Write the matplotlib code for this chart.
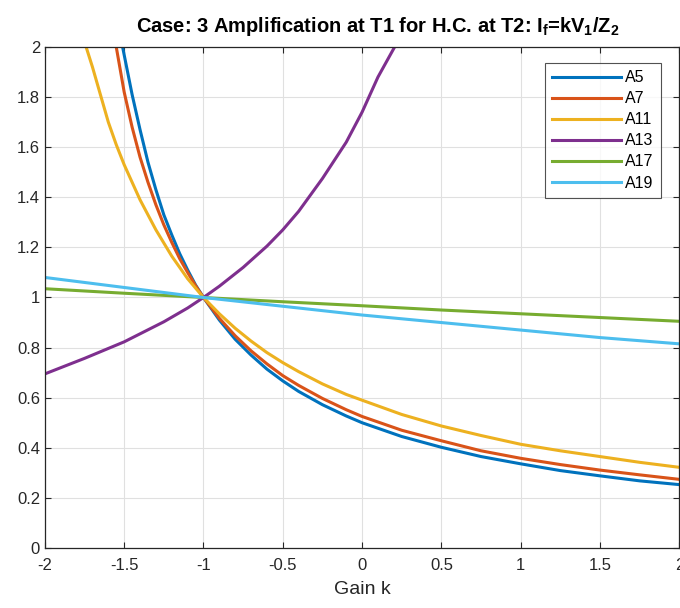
import matplotlib
matplotlib.use('Agg')
import matplotlib.pyplot as plt

plt.rcParams['font.family'] = ['Liberation Sans', 'DejaVu Sans']
plt.rcParams['axes.unicode_minus'] = False
plt.rcParams['mathtext.fontset'] = 'custom'
plt.rcParams['mathtext.rm'] = 'Liberation Sans'
plt.rcParams['mathtext.bf'] = 'Liberation Sans:bold'

# 그림에서 읽은 값 (Gain k, 증폭률)
k_a5 = [-1.51, -1.45, -1.4, -1.35, -1.3, -1.25, -1.2, -1.15, -1.1, -1.05, -1.0,
        -0.9, -0.8, -0.7, -0.6, -0.5, -0.4, -0.25, -0.1, 0.0,
        0.25, 0.5, 0.75, 1.0, 1.25, 1.5, 1.75, 2.0]
a5 = [2.0, 1.81, 1.67, 1.54, 1.43, 1.33, 1.25, 1.175, 1.11, 1.05, 1.0,
      0.91, 0.833, 0.77, 0.714, 0.667, 0.625, 0.572, 0.527, 0.50,
      0.445, 0.402, 0.365, 0.336, 0.309, 0.288, 0.268, 0.253]

k_a7 = [-1.55, -1.5, -1.45, -1.4, -1.35, -1.3, -1.25, -1.2, -1.15, -1.1, -1.05, -1.0,
        -0.9, -0.8, -0.7, -0.6, -0.5, -0.4, -0.25, -0.1, 0.0,
        0.25, 0.5, 0.75, 1.0, 1.25, 1.5, 1.75, 2.0]
a7 = [2.0, 1.82, 1.68, 1.56, 1.46, 1.37, 1.29, 1.22, 1.155, 1.10, 1.047, 1.0,
      0.917, 0.847, 0.787, 0.735, 0.688, 0.649, 0.597, 0.552, 0.525,
      0.47, 0.428, 0.388, 0.358, 0.333, 0.311, 0.292, 0.274]

k_a11 = [-1.74, -1.7, -1.65, -1.6, -1.55, -1.5, -1.45, -1.4, -1.3, -1.2, -1.1, -1.0,
         -0.9, -0.8, -0.7, -0.6, -0.5, -0.4, -0.25, -0.1, 0.0,
         0.25, 0.5, 0.75, 1.0, 1.25, 1.5, 1.75, 2.0]
a11 = [2.0, 1.92, 1.81, 1.70, 1.61, 1.53, 1.46, 1.39, 1.27, 1.165, 1.075, 1.0,
       0.935, 0.877, 0.826, 0.78, 0.74, 0.704, 0.655, 0.613, 0.59,
       0.533, 0.487, 0.449, 0.414, 0.388, 0.365, 0.342, 0.322]

k_a13 = [-2.0, -1.75, -1.5, -1.25, -1.1, -1.0, -0.9, -0.75, -0.6, -0.5,
         -0.4, -0.25, -0.1, 0.0, 0.1, 0.205]
a13 = [0.695, 0.757, 0.823, 0.903, 0.958, 1.0, 1.045, 1.12, 1.205, 1.27,
       1.344, 1.475, 1.62, 1.74, 1.88, 2.0]

k_lin = [-2.0, -1.5, -1.0, -0.5, 0.0, 0.5, 1.0, 1.5, 2.0]
a17 = [1.035, 1.017, 1.0, 0.983, 0.967, 0.95, 0.935, 0.92, 0.905]
a19 = [1.08, 1.04, 1.0, 0.965, 0.93, 0.90, 0.87, 0.84, 0.815]

xticks = [-2, -1.5, -1, -0.5, 0, 0.5, 1, 1.5, 2]
xlabels = ['-2', '-1.5', '-1', '-0.5', '0', '0.5', '1', '1.5', '2']
yticks = [0, 0.2, 0.4, 0.6, 0.8, 1.0, 1.2, 1.4, 1.6, 1.8, 2.0]
ylabels = ['0', '0.2', '0.4', '0.6', '0.8', '1', '1.2', '1.4', '1.6', '1.8', '2']

fig = plt.figure(figsize=(6.8, 6.08), dpi=100)
ax = fig.add_axes([0.066, 0.0987, 0.933, 0.824])

lw = 2.2
ax.plot(k_a5, a5, color='#0072BD', lw=lw, label='A5')
ax.plot(k_a7, a7, color='#D95319', lw=lw, label='A7')
ax.plot(k_a11, a11, color='#EDB120', lw=lw, label='A11')
ax.plot(k_a13, a13, color='#7E2F8E', lw=lw, label='A13')
ax.plot(k_lin, a17, color='#77AC30', lw=lw, label='A17')
ax.plot(k_lin, a19, color='#4DBEEE', lw=lw, label='A19')

ax.set_xlim(-2, 2)
ax.set_ylim(0, 2)
ax.set_xticks(xticks)
ax.set_xticklabels(xlabels)
ax.set_yticks(yticks)
ax.set_yticklabels(ylabels)
ax.grid(True, color='#e0e0e0', lw=0.8)
ax.set_axisbelow(True)
ax.tick_params(direction='in', top=True, right=True, length=4, width=0.8,
               colors='#262626', labelsize=12)
ax.tick_params(axis='x', pad=7)
for s in ax.spines.values():
    s.set_color('#262626')
    s.set_linewidth(0.9)

ax.set_xlabel('Gain k', fontsize=14, color='#262626', labelpad=6)
ax.set_title(r'Case: 3 Amplification at T1 for H.C. at T2: I$_\mathbf{f}$=kV$_\mathbf{1}$/Z$_\mathbf{2}$',
             fontsize=14.5, fontweight='bold', pad=11, x=0.525)

leg = ax.legend(loc='upper right', bbox_to_anchor=(0.971, 0.968), fontsize=11.5,
                fancybox=False, edgecolor='#262626', handlelength=4.3,
                handletextpad=0.3, labelspacing=0.38, borderpad=0.45,
                borderaxespad=0.0)
leg.get_frame().set_linewidth(0.8)

fig.savefig('out.png', dpi=100)
